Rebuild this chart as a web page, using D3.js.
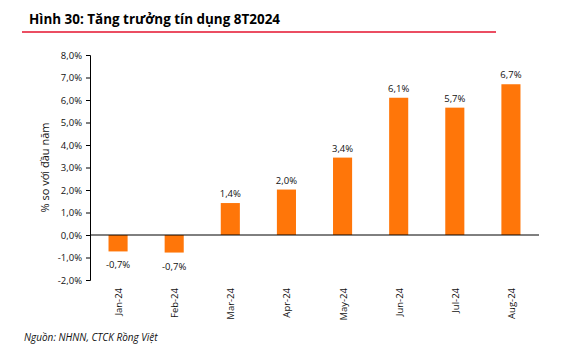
<!DOCTYPE html>
<html>
<head>
<meta charset="utf-8">
<script src="https://cdn.jsdelivr.net/npm/d3@7"></script>
<style>
  body { margin: 0; background: #fff; }
  text { font-family: "Open Sans", "Noto Sans", sans-serif; }
</style>
</head>
<body>
<div id="chart"></div>
<script>
// du lieu doc tu hinh
const months = ["Jan-24", "Feb-24", "Mar-24", "Apr-24", "May-24", "Jun-24", "Jul-24", "Aug-24"];
const growth = [-0.73, -0.78, 1.42, 2.02, 3.44, 6.1, 5.66, 6.7];
const labels = ["-0,7%", "-0,7%", "1,4%", "2,0%", "3,4%", "6,1%", "5,7%", "6,7%"];
const yTicks = [-2, -1, 0, 1, 2, 3, 4, 5, 6, 7, 8];

const width = 581;
const height = 353;
const margin = { top: 55, right: 42, bottom: 73, left: 90 };

const svg = d3.select("#chart")
  .append("svg")
  .attr("width", width)
  .attr("height", height);

// tieu de
svg.append("text")
  .attr("x", 29)
  .attr("y", 24)
  .attr("font-size", 14.5)
  .attr("font-weight", "bold")
  .attr("textLength", 251)
  .attr("lengthAdjust", "spacingAndGlyphs")
  .text("Hình 30: Tăng trưởng tín dụng 8T2024");

svg.append("line")
  .attr("x1", 22).attr("x2", 496)
  .attr("y1", 32).attr("y2", 32)
  .attr("stroke", "#e4132e")
  .attr("stroke-width", 1.5);

const x = d3.scaleBand()
  .domain(months)
  .range([margin.left, width - margin.right])
  .paddingInner(0.66)
  .paddingOuter(0.33);

const y = d3.scaleLinear()
  .domain([-2, 8])
  .range([height - margin.bottom, margin.top]);

// truc y
const yAxis = d3.axisLeft(y)
  .tickValues(yTicks)
  .tickSize(4)
  .tickFormat(d => d3.format(".1f")(d).replace(".", ",").replace("−", "-") + "%");

const gy = svg.append("g")
  .attr("transform", "translate(" + margin.left + ",0)")
  .call(yAxis);
gy.select(".domain").attr("stroke", "#000");
gy.selectAll("text").attr("font-size", 9.5).attr("fill", "#111").attr("dx", -1);

svg.append("text")
  .attr("transform", "translate(49," + y(3) + ") rotate(-90)")
  .attr("text-anchor", "middle")
  .attr("font-size", 11)
  .attr("fill", "#111")
  .text("% so với đầu năm");

// cot
svg.selectAll("rect.bar")
  .data(growth)
  .join("rect")
  .attr("class", "bar")
  .attr("x", (d, i) => x(months[i]))
  .attr("width", x.bandwidth())
  .attr("y", d => y(Math.max(0, d)))
  .attr("height", d => Math.abs(y(d) - y(0)))
  .attr("fill", "#ff7609");

// duong 0
svg.append("line")
  .attr("x1", margin.left).attr("x2", width - margin.right)
  .attr("y1", y(0)).attr("y2", y(0))
  .attr("stroke", "#000");

// nhan gia tri
svg.selectAll("text.val")
  .data(growth)
  .join("text")
  .attr("class", "val")
  .attr("x", (d, i) => x(months[i]) + x.bandwidth() / 2)
  .attr("y", d => d >= 0 ? y(d) - 6 : y(d) + 17)
  .attr("text-anchor", "middle")
  .attr("font-size", 9.5)
  .attr("fill", "#111")
  .text((d, i) => labels[i]);

// nhan truc x
svg.selectAll("text.month")
  .data(months)
  .join("text")
  .attr("class", "month")
  .attr("transform", d => "translate(" + (x(d) + x.bandwidth() / 2 + 4) + ",288) rotate(-90)")
  .attr("text-anchor", "end")
  .attr("font-size", 9.5)
  .attr("fill", "#111")
  .text(d => d);

// nguon
svg.append("text")
  .attr("x", 24)
  .attr("y", 341)
  .attr("font-size", 10)
  .attr("font-style", "italic")
  .attr("fill", "#111")
  .text("Nguồn: NHNN, CTCK Rồng Việt");
</script>
</body>
</html>
